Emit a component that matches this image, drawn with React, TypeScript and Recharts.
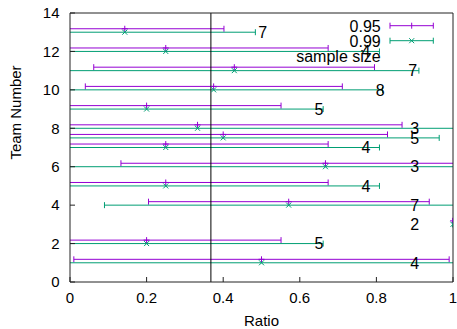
import React from 'react';
import { ComposedChart, Scatter, ErrorBar, XAxis, YAxis, ReferenceLine, Legend } from 'recharts';

// Team numbers (one entry sits at 7.5 in the source)
const teams = [1, 2, 3, 4, 5, 6, 7, 7.5, 8, 9, 10, 11, 12, 13];
// Observed ratio per team
const ratio = [0.5, 0.2, 1, 0.571, 0.25, 0.667, 0.25, 0.4, 0.333, 0.2, 0.375, 0.429, 0.25, 0.143];
// Sample sizes printed next to the bars
const sampleSize = [4, 5, 2, 7, 4, 3, 4, 5, 3, 5, 8, 7, 4, 7];
// 95% interval bounds
const lo95 = [0.01, -0.151, 1, 0.205, -0.174, 0.133, -0.174, -0.029, -0.2, -0.151, 0.04, 0.062, -0.174, -0.116];
const hi95 = [0.99, 0.551, 1, 0.938, 0.674, 1.2, 0.674, 0.829, 0.867, 0.551, 0.711, 0.795, 0.674, 0.402];
// 99% interval bounds
const lo99 = [-0.144, -0.261, 1, 0.09, -0.308, -0.035, -0.308, -0.164, -0.368, -0.261, -0.066, -0.053, -0.308, -0.198];
const hi99 = [1.144, 0.661, 1, 1.053, 0.808, 1.368, 0.808, 0.964, 1.034, 0.661, 0.816, 0.911, 0.808, 0.484];
// x position of the sample-size labels
const labelX = [0.9, 0.65, 0.9, 0.9, 0.773, 0.9, 0.773, 0.9, 0.9, 0.65, 0.81, 0.895, 0.773, 0.503];
// Reference line (1/e)
const refX = 0.3679;

const xTicks = [0, 0.2, 0.4, 0.6, 0.8, 1];
const yTicks = [0, 2, 4, 6, 8, 10, 12, 14];

const PURPLE = '#9400D3';
const GREEN = '#009E73';
const BORDER = '#222';
const FONT = "'Liberation Sans', Arial, Helvetica, sans-serif";
const OFFSET95 = 0.18;

const W = 457;
const H = 329;
const M = { top: 12, right: 3, bottom: 0, left: 0 };
const Y_AXIS_W = 70;
const X_AXIS_H = 47;
const TOP_AXIS_H = 1;
const RIGHT_AXIS_W = 1;
const PLOT = {
  x: M.left + Y_AXIS_W,
  y: M.top + TOP_AXIS_H,
  w: W - M.left - M.right - Y_AXIS_W - RIGHT_AXIS_W,
  h: H - M.top - M.bottom - X_AXIS_H - TOP_AXIS_H,
};

const data95 = teams.map((t, i) => ({ x: ratio[i], y: t + OFFSET95, err: [ratio[i] - lo95[i], hi95[i] - ratio[i]] }));
const data99 = teams.map((t, i) => ({ x: ratio[i], y: t, err: [ratio[i] - lo99[i], hi99[i] - ratio[i]] }));
const labelData = teams.map((t, i) => ({ x: labelX[i], y: t, n: sampleSize[i] }));

const PlusShape = (p: any) => (
  <path d={`M${p.cx - 3},${p.cy}h6M${p.cx},${p.cy - 3}v6`} stroke={PURPLE} strokeWidth={1} fill="none" />
);
const CrossShape = (p: any) => (
  <path d={`M${p.cx - 2.5},${p.cy - 2.5}l5,5M${p.cx - 2.5},${p.cy + 2.5}l5,-5`} stroke={GREEN} strokeWidth={1} fill="none" />
);
const LabelShape = (p: any) => (
  <text x={p.cx} y={p.cy} dy="0.36em" textAnchor="middle" fontSize={16} fill="#000" style={{ fontFamily: FONT }}>
    {p.payload.n}
  </text>
);

const LegendBox = () => (
  <svg width={175} height={55} style={{ display: 'block', overflow: 'visible' }}>
    <g fontSize={16} fill="#000" style={{ fontFamily: FONT }}>
      <text x={100.7} y={16.7} textAnchor="end">0.95</text>
      <text x={100.7} y={31.7} textAnchor="end">0.99</text>
      <text x={100.7} y={47} textAnchor="end">sample size</text>
    </g>
    <g stroke={PURPLE} strokeWidth={1} fill="none">
      <path d="M110,10.7H153.3M110,7.7v6M153.3,7.7v6M131.7,7.7v6" />
    </g>
    <g stroke={GREEN} strokeWidth={1} fill="none">
      <path d="M110,25.7H153.3M110,22.7v6M153.3,22.7v6M129.2,23.2l5,5M129.2,28.2l5,-5" />
    </g>
  </svg>
);

const YLabel = (props: any) => {
  const vb = props.viewBox || { x: 0, y: 0, width: 0, height: 0 };
  const cx = vb.x + 16;
  const cy = vb.y + vb.height / 2 - 35;
  return (
    <text x={cx} y={cy} transform={`rotate(-90 ${cx} ${cy})`} textAnchor="middle" dy="0.36em" fontSize={15} fill="#000" style={{ fontFamily: FONT }}>
      Team Number
    </text>
  );
};

export default function App() {
  return (
    <div style={{ position: 'absolute', left: 0, top: 0, width: W, height: H, background: '#fff', fontFamily: FONT }}>
      <style>{`.recharts-errorBars, .recharts-errorBar { clip-path: url(#plotAreaClip); }`}</style>
      <svg width={0} height={0} style={{ position: 'absolute' }}>
        <defs>
          <clipPath id="plotAreaClip" clipPathUnits="userSpaceOnUse">
            <rect x={PLOT.x} y={PLOT.y} width={PLOT.w} height={PLOT.h} />
          </clipPath>
        </defs>
      </svg>
      <ComposedChart width={W} height={H} margin={M}>
        <XAxis
          xAxisId={0}
          dataKey="x"
          type="number"
          domain={[0, 1]}
          ticks={xTicks}
          allowDataOverflow
          height={X_AXIS_H}
          tickSize={-5}
          tickMargin={15}
          tick={{ fill: '#000', fontSize: 15 }}
          axisLine={{ stroke: BORDER, strokeWidth: 1 }}
          tickLine={{ stroke: BORDER }}
          label={{ value: 'Ratio', position: 'insideBottom', offset: 3, fill: '#000', fontSize: 15 }}
        />
        <XAxis
          xAxisId="top"
          dataKey="x"
          orientation="top"
          type="number"
          domain={[0, 1]}
          ticks={xTicks}
          allowDataOverflow
          height={TOP_AXIS_H}
          tickSize={-5}
          tick={false}
          axisLine={{ stroke: BORDER, strokeWidth: 1 }}
          tickLine={{ stroke: BORDER }}
        />
        <YAxis
          yAxisId={0}
          dataKey="y"
          type="number"
          domain={[0, 14]}
          ticks={yTicks}
          allowDataOverflow
          width={Y_AXIS_W}
          tickSize={-5}
          tickMargin={15.5}
          tick={{ fill: '#000', fontSize: 15 }}
          axisLine={{ stroke: BORDER, strokeWidth: 1 }}
          tickLine={{ stroke: BORDER }}
          label={<YLabel />}
        />
        <YAxis
          yAxisId="right"
          dataKey="y"
          orientation="right"
          type="number"
          domain={[0, 14]}
          ticks={yTicks}
          allowDataOverflow
          width={RIGHT_AXIS_W}
          tickSize={-5}
          tick={false}
          axisLine={{ stroke: BORDER, strokeWidth: 1 }}
          tickLine={{ stroke: BORDER }}
        />
        <Scatter name="0.95" data={data95} fill={PURPLE} shape={<PlusShape />} isAnimationActive={false}>
          <ErrorBar dataKey="err" direction="x" width={3} stroke={PURPLE} strokeWidth={1} isAnimationActive={false} />
        </Scatter>
        <Scatter name="0.99" data={data99} fill={GREEN} shape={<CrossShape />} isAnimationActive={false}>
          <ErrorBar dataKey="err" direction="x" width={3} stroke={GREEN} strokeWidth={1} isAnimationActive={false} />
        </Scatter>
        <Scatter
          name="sample size"
          data={labelData}
          xAxisId="top"
          yAxisId="right"
          shape={<LabelShape />}
          isAnimationActive={false}
        />
        <ReferenceLine x={refX} stroke="#000" strokeWidth={1} />
        <Legend
          layout="vertical"
          align="center"
          verticalAlign="middle"
          content={() => <LegendBox />}
          wrapperStyle={{ top: 15, left: 280, width: 175, height: 55 }}
        />
      </ComposedChart>
    </div>
  );
}
